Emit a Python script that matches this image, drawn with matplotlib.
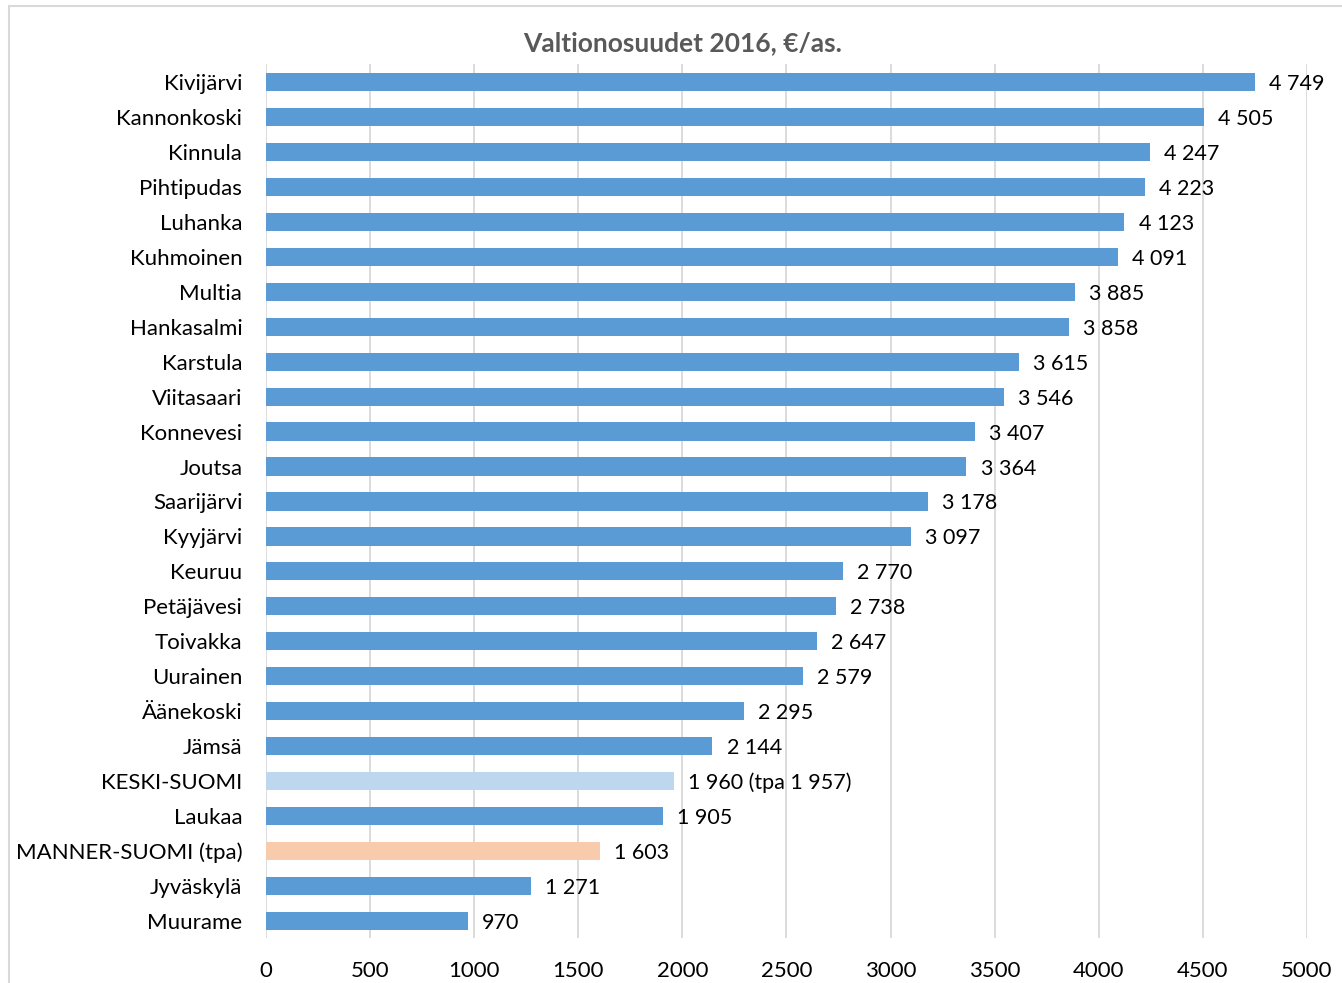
import matplotlib.pyplot as plt
from matplotlib.patches import Rectangle

# data, top to bottom as in the chart
kunnat = ['Kivijärvi', 'Kannonkoski', 'Kinnula', 'Pihtipudas', 'Luhanka',
          'Kuhmoinen', 'Multia', 'Hankasalmi', 'Karstula', 'Viitasaari',
          'Konnevesi', 'Joutsa', 'Saarijärvi', 'Kyyjärvi', 'Keuruu',
          'Petäjävesi', 'Toivakka', 'Uurainen', 'Äänekoski', 'Jämsä',
          'KESKI-SUOMI', 'Laukaa', 'MANNER-SUOMI (tpa)', 'Jyväskylä', 'Muurame']
arvot = [4749, 4505, 4247, 4223, 4123, 4091, 3885, 3858, 3615, 3546,
         3407, 3364, 3178, 3097, 2770, 2738, 2647, 2579, 2295, 2144,
         1960, 1905, 1603, 1271, 970]
lisatekstit = {'KESKI-SUOMI': ' (tpa 1 957)'}
xticks = [0, 500, 1000, 1500, 2000, 2500, 3000, 3500, 4000, 4500, 5000]

plt.rcParams['font.family'] = ['Lato', 'DejaVu Sans']

fig = plt.figure(figsize=(13.42, 9.83), dpi=100)
ax = fig.add_axes([0.1982, 0.0453, 0.7757, 0.8891])

# chart border like excel
fig.patches.append(Rectangle((9 / 1342, -0.1), 1.2, 1 - 6 / 983 + 0.1,
                             transform=fig.transFigure, fill=False,
                             edgecolor='#D9D9D9', linewidth=1.5))

colors = []
for k in kunnat:
    if k == 'KESKI-SUOMI':
        colors.append('#BDD7EE')
    elif k.startswith('MANNER'):
        colors.append('#F8CBAD')
    else:
        colors.append('#5B9BD5')

ypos = list(range(len(kunnat)))
ax.barh(ypos, arvot, height=0.52, color=colors, zorder=3)

for y, k, v in zip(ypos, kunnat, arvot):
    txt = f'{v:,}'.replace(',', ' ') + lisatekstit.get(k, '')
    ax.text(v + 68, y, txt, va='center_baseline', ha='left', fontsize=15.5,
            color='#000000')

ax.set_yticks(ypos)
ax.set_yticklabels(kunnat, fontsize=16, va='center_baseline')
ax.set_ylim(len(kunnat) - 0.5, -0.5)
ax.set_xlim(0, 5000)
ax.set_xticks(xticks)
ax.set_xticklabels([str(t) for t in xticks], fontsize=16)
ax.tick_params(axis='both', length=0)
ax.tick_params(axis='x', pad=16)
ax.tick_params(axis='y', pad=17)
ax.grid(axis='x', color='#D9D9D9', linewidth=1.3, zorder=0)
for s in ax.spines.values():
    s.set_visible(False)

fig.text(683 / 1342, 1 - 43 / 983, 'Valtionosuudet 2016, €/as.', ha='center',
         va='center', fontsize=19, fontweight='bold', color='#595959')

fig.savefig('out.png', dpi=100)
